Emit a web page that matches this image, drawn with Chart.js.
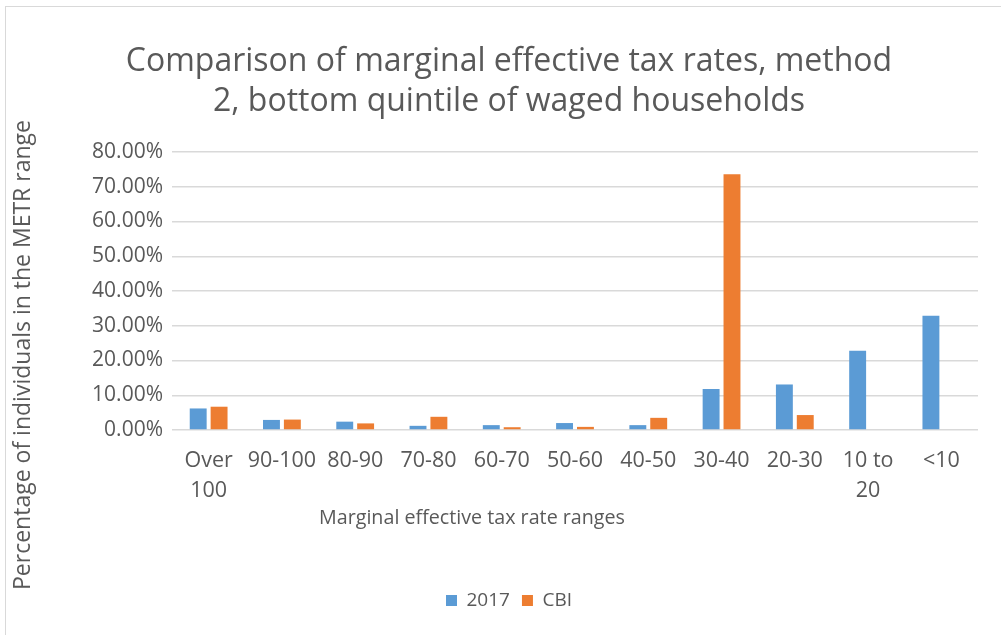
<!DOCTYPE html>
<html>
<head>
<meta charset="utf-8">
<title>METR comparison</title>
<script src="https://cdn.jsdelivr.net/npm/chart.js@4.4.1/dist/chart.umd.min.js"></script>
<style>
    html, body { margin: 0; padding: 0; background: #fff; overflow: hidden; }
    #wrap { position: relative; width: 1001px; height: 635px; }
    #frame {
        position: absolute; left: 5px; top: 6px; width: 1100px; height: 700px;
        border-left: 1px solid #d9d9d9; border-top: 1px solid #d9d9d9;
        pointer-events: none;
    }
</style>
</head>
<body>
<div id="wrap">
    <canvas id="metrChart" width="1001" height="635"></canvas>
    <div id="frame"></div>
</div>
<script>
// chart data (percent of individuals in each METR range)
const categories = [['Over', '100'], '90-100', '80-90', '70-80', '60-70', '50-60', '40-50', '30-40', '20-30', ['10 to', '20'], '<10'];
const values2017 = [6.2, 2.9, 2.4, 1.2, 1.4, 2.0, 1.4, 11.8, 13.1, 22.8, 32.9];
const valuesCBI = [6.7, 3.0, 1.9, 3.8, 0.8, 0.9, 3.5, 73.6, 4.3, 0, 0];
const yTickValues = [0, 10, 20, 30, 40, 50, 60, 70, 80];

const chartTitle = ['Comparison of marginal effective tax rates, method', '2, bottom quintile of waged households'];
const xTitle = 'Marginal effective tax rate ranges';
const yTitle = 'Percentage of individuals in the METR range';

const textColor = '#595959';
const fontFamily = '"Open Sans", "Noto Sans", sans-serif';

// axis titles are placed by hand, like the moved titles in the original
const axisTitles = {
    id: 'axisTitles',
    afterDraw(chart) {
        const ctx = chart.ctx;
        ctx.save();
        ctx.fillStyle = textColor;
        ctx.textAlign = 'center';
        ctx.textBaseline = 'middle';
        ctx.font = '19.7px ' + fontFamily;
        ctx.fillText(xTitle, 472, 518);
        ctx.font = '23px ' + fontFamily;
        ctx.translate(23, 355);
        ctx.rotate(-Math.PI / 2);
        ctx.fillText(yTitle, 0, 0);
        ctx.restore();
    }
};

const ctx = document.getElementById('metrChart').getContext('2d');
new Chart(ctx, {
    type: 'bar',
    data: {
        labels: categories,
        datasets: [
            {
                label: '2017',
                data: values2017,
                backgroundColor: '#5B9BD5',
                categoryPercentage: 0.57,
                barPercentage: 0.81
            },
            {
                label: 'CBI',
                data: valuesCBI,
                backgroundColor: '#ED7D31',
                categoryPercentage: 0.57,
                barPercentage: 0.81
            }
        ]
    },
    options: {
        responsive: false,
        animation: false,
        layout: {
            padding: { left: 40, right: 23, top: 0, bottom: 15 }
        },
        plugins: {
            title: {
                display: true,
                text: chartTitle,
                color: textColor,
                font: { family: fontFamily, size: 32, weight: 'normal', lineHeight: 1.25 },
                padding: { top: 42, bottom: 30 }
            },
            legend: {
                position: 'bottom',
                labels: {
                    color: textColor,
                    font: { family: fontFamily, size: 19 },
                    boxWidth: 11,
                    boxHeight: 11,
                    padding: 12
                }
            },
            tooltip: { enabled: false }
        },
        scales: {
            x: {
                grid: { display: false },
                border: { display: false },
                ticks: {
                    color: textColor,
                    font: { family: fontFamily, size: 21.5, lineHeight: 1.4 },
                    padding: 8,
                    maxRotation: 0,
                    autoSkip: false
                },
                afterFit(scale) { scale.height = 149; }
            },
            y: {
                min: 0,
                max: 80,
                afterBuildTicks(scale) {
                    scale.ticks = yTickValues.map(v => ({ value: v }));
                },
                ticks: {
                    color: textColor,
                    font: { family: fontFamily, size: 21 },
                    padding: 9,
                    callback: v => v.toFixed(2) + '%'
                },
                grid: { color: '#d9d9d9', lineWidth: 1.5, drawTicks: false },
                border: { display: false },
                afterFit(scale) { scale.width = 132; }
            }
        }
    },
    plugins: [axisTitles]
});
</script>
</body>
</html>
